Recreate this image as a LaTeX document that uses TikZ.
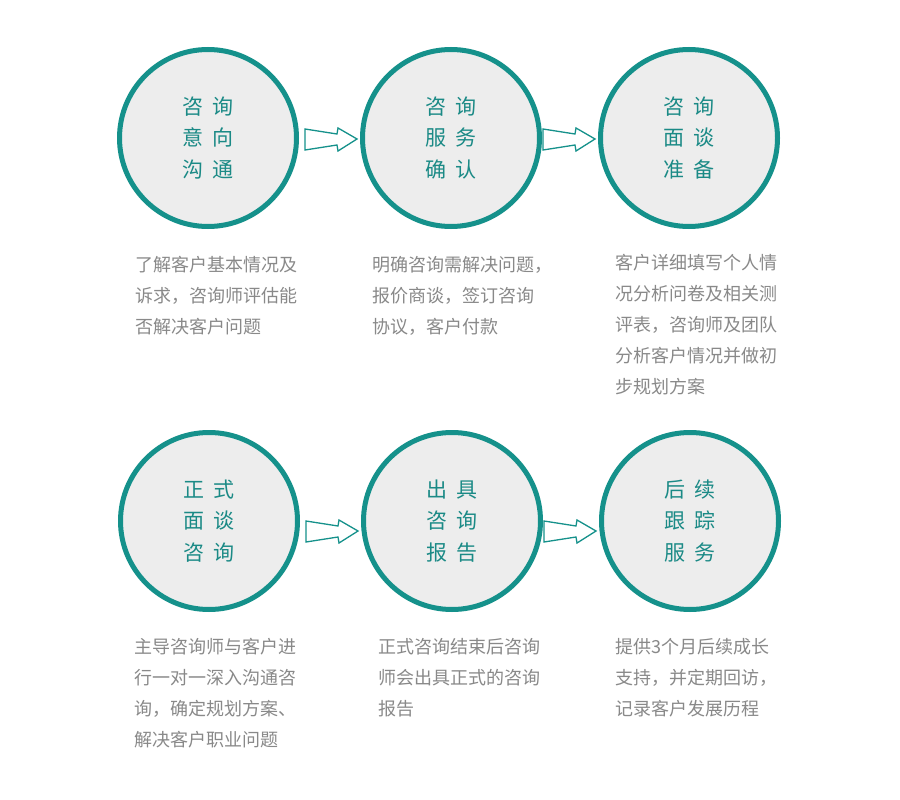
\documentclass[tikz,border=0pt]{standalone}
\usepackage{fontspec}
\usetikzlibrary{calc}
\setmainfont{Noto Sans CJK SC}
\newfontfamily\cjk{Noto Sans CJK SC}
\definecolor{tealring}{HTML}{15918B}
\definecolor{tealtext}{HTML}{1B8A86}
\definecolor{discfill}{HTML}{EDEDED}
\definecolor{desctext}{HTML}{898989}
\tikzset{
  stepdisc/.style={circle, draw=tealring, line width=5pt, fill=discfill,
    minimum size=177pt, inner sep=0pt, text=tealtext, align=center,
    font=\cjk\fontsize{21}{31.5}\selectfont},
  desc/.style={anchor=north west, inner sep=0pt, text=desctext, align=left,
    font=\cjk\fontsize{18}{31}\selectfont},
  blockarrow/.style={draw=tealring, fill=white, line width=1.3pt, line join=miter},
}
\newcommand{\flowarrow}[1]{%
  \draw[blockarrow] (#1) ++(-52,-10) -- ++(32,5) -- ++(1,-6) -- ++(19,11)
     -- ++(-19,12) -- ++(-1,-6) -- ++(-32,5) -- cycle;}
\newcommand{\gp}{\hspace{9pt}}
\begin{document}
\begin{tikzpicture}[x=1pt, y=-1pt]
\useasboundingbox (0,0) rectangle (900,800);
\fill[white] (0,0) rectangle (900,800);
% top row
\node[stepdisc] (c1) at (208,138) {咨\gp 询\\意\gp 向\\沟\gp 通};
\node[stepdisc] (c2) at (451,138) {咨\gp 询\\服\gp 务\\确\gp 认};
\node[stepdisc] (c3) at (689,138) {咨\gp 询\\面\gp 谈\\准\gp 备};
% bottom row
\node[stepdisc] (c4) at (209,521) {正\gp 式\\面\gp 谈\\咨\gp 询};
\node[stepdisc] (c5) at (452,521) {出\gp 具\\咨\gp 询\\报\gp 告};
\node[stepdisc] (c6) at (690,521) {后\gp 续\\跟\gp 踪\\服\gp 务};
% arrows: tip just before the next circle
\coordinate (a12) at ($(c2.west)+(-3,1)$);
\coordinate (a23) at ($(c3.west)+(-3,1)$);
\coordinate (a45) at ($(c5.west)+(-3,10)$);
\coordinate (a56) at ($(c6.west)+(-3,10)$);
\flowarrow{a12}
\flowarrow{a23}
\flowarrow{a45}
\flowarrow{a56}
% descriptions
\node[desc] (d1) at (135,256) {了解客户基本情况及\\诉求，咨询师评估能\\否解决客户问题};
\node[desc] (d2) at (372,256) {明确咨询需解决问题，\\报价商谈，签订咨询\\协议，客户付款};
\node[desc] (d3) at (615,254) {客户详细填写个人情\\况分析问卷及相关测\\评表，咨询师及团队\\分析客户情况并做初\\步规划方案};
\node[desc] (d4) at (134,638) {主导咨询师与客户进\\行一对一深入沟通咨\\询，确定规划方案、\\解决客户职业问题};
\node[desc] (d5) at (378,638) {正式咨询结束后咨询\\师会出具正式的咨询\\报告};
\node[desc] (d6) at (615,638) {提供3个月后续成长\\支持，并定期回访，\\记录客户发展历程};
\end{tikzpicture}
\end{document}
